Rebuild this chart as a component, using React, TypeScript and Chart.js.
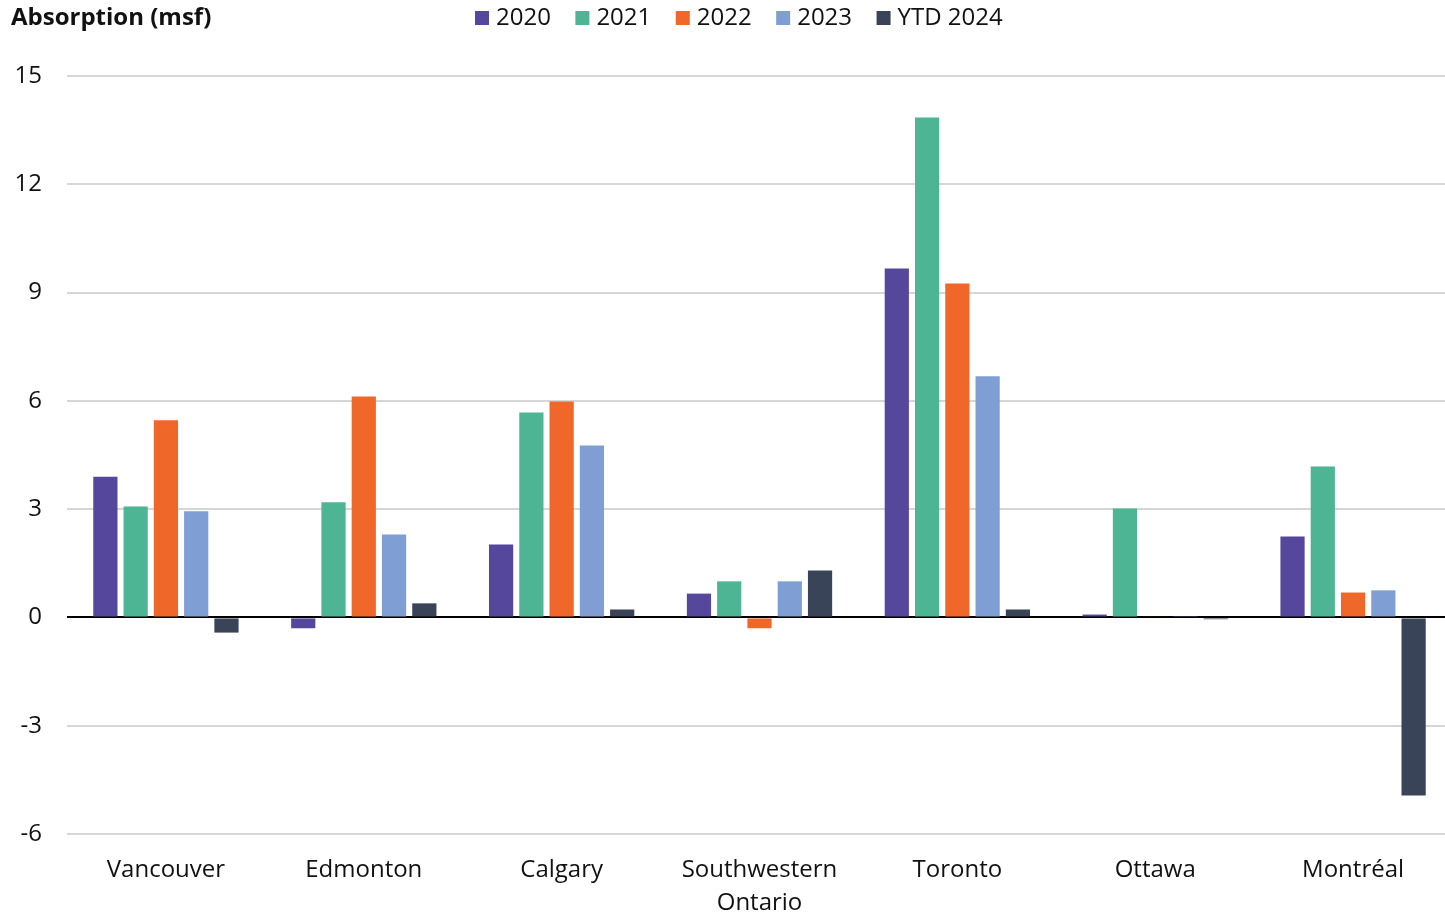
import React, { useEffect, useRef } from "react";
import { Chart, registerables } from "chart.js";

Chart.register(...registerables);

const categories: (string | string[])[] = [
  "Vancouver",
  "Edmonton",
  "Calgary",
  ["Southwestern", "Ontario"],
  "Toronto",
  "Ottawa",
  "Montréal",
];

const seriesLabels = ["2020", "2021", "2022", "2023", "YTD 2024"];
const values2020 = [3.9, -0.3, 2.02, 0.66, 9.67, 0.08, 2.24];
const values2021 = [3.07, 3.19, 5.68, 1.0, 13.85, 3.02, 4.18];
const values2022 = [5.46, 6.12, 5.98, -0.3, 9.25, 0.03, 0.69];
const values2023 = [2.94, 2.3, 4.76, 1.0, 6.68, 0.02, 0.75];
const valuesYTD2024 = [-0.42, 0.39, 0.22, 1.3, 0.22, -0.05, -4.93];
const colors = ["#55479C", "#4DB594", "#F0672A", "#7F9ED4", "#394459"];
const yTicks = { min: -6, max: 15, step: 3 };

const FONT = "'Open Sans', sans-serif";

const overlayPlugin = {
  id: "overlay",
  afterDraw(chart: any) {
    const ctx = chart.ctx;
    ctx.save();
    ctx.fillStyle = "#111";
    ctx.font = `bold 24px ${FONT}`;
    ctx.textBaseline = "middle";
    ctx.textAlign = "left";
    ctx.fillText("Absorption (msf)", 11, 18);

    ctx.font = `24px ${FONT}`;
    let x = 475;
    chart.data.datasets.forEach((ds: any) => {
      ctx.fillStyle = ds.backgroundColor;
      ctx.fillRect(x, 11, 14, 14);
      ctx.fillStyle = "#111";
      ctx.fillText(ds.label, x + 21, 18);
      x += 21 + ctx.measureText(ds.label).width + 24.5;
    });
    ctx.restore();
  },
};

export default function App() {
  const ref = useRef<HTMLCanvasElement>(null);
  useEffect(() => {
    document.body.style.margin = "0";
    const series = [values2020, values2021, values2022, values2023, valuesYTD2024];
    const chart = new Chart(ref.current!, {
      type: "bar",
      data: {
        labels: categories,
        datasets: series.map((d, i) => ({
          label: seriesLabels[i],
          data: d,
          backgroundColor: colors[i],
          borderWidth: 0,
          categoryPercentage: 0.765,
          barPercentage: 0.8,
        })),
      },
      options: {
        responsive: false,
        animation: false,
        layout: { padding: { top: 76, left: 0, right: 0, bottom: 0 } },
        plugins: {
          legend: { display: false },
          tooltip: { enabled: false },
        },
        scales: {
          x: {
            grid: { display: false },
            border: { display: false },
            ticks: {
              color: "#111",
              font: { family: FONT, size: 24, lineHeight: 1.375 },
              padding: 12,
              maxRotation: 0,
              autoSkip: false,
            },
            afterFit: (s: any) => {
              s.height = 79;
            },
          },
          y: {
            min: yTicks.min,
            max: yTicks.max,
            border: { display: false },
            grid: {
              drawTicks: false,
              color: (c: any) => (c.tick && c.tick.value === 0 ? "#000" : "#D6D6D6"),
              lineWidth: 2,
            },
            ticks: {
              stepSize: yTicks.step,
              color: "#111",
              font: { family: FONT, size: 24 },
              padding: 25,
            },
            afterFit: (s: any) => {
              s.width = 67;
            },
          },
        },
      },
      plugins: [overlayPlugin],
    });
    return () => chart.destroy();
  }, []);
  return (
    <div style={{ width: 1445, height: 913, overflow: "hidden" }}>
      <canvas ref={ref} width={1452} height={913} style={{ display: "block" }} />
    </div>
  );
}
